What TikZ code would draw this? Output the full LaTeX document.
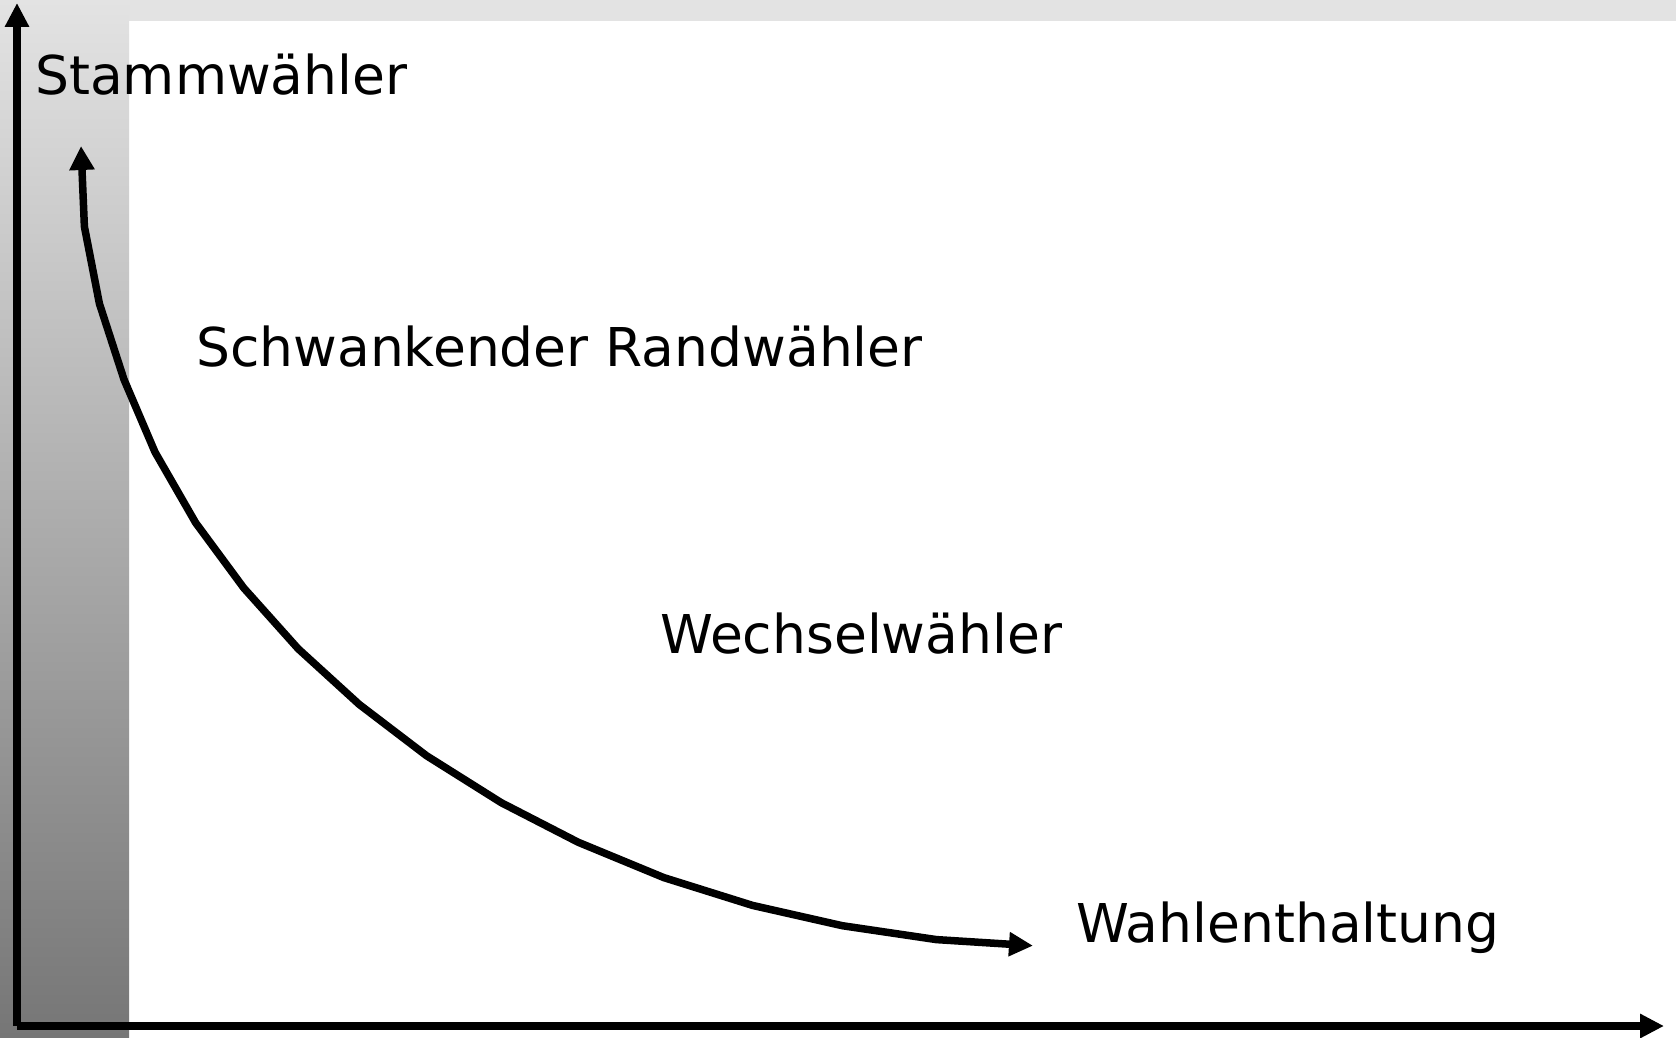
\documentclass[tikz,border=0pt]{standalone}
\usepackage{fontspec}
\setmainfont{DejaVu Sans}
\usetikzlibrary{arrows.meta}
\definecolor{BandGray}{RGB}{227,227,227}
\definecolor{BarDark}{RGB}{118,118,118}

\begin{document}
\begin{tikzpicture}[x=1bp,y=1bp,line join=miter]
  \path[use as bounding box] (0,0) rectangle (1676,1037);
  \fill[white] (0,0) rectangle (1676,1037);

  \tikzset{
    votertext/.style={anchor=base west,inner sep=0pt,text=black,
      font=\fontsize{53.5bp}{53.5bp}\selectfont},
    axisline/.style={line width=7.5bp,draw=black,
      -{Triangle[length=24bp,width=23bp]}},
    curveline/.style={line width=7.5bp,draw=black,
      {Triangle[length=24bp,width=24bp]}-{Triangle[length=24bp,width=23bp]}},
  }

  % Background band & gradient bar
  \fill[BandGray] (0,1016) rectangle (1676,1037);
  \shade[top color=BandGray,bottom color=BarDark] (0,0) rectangle (129,1037);

  % ==================== ACHSEN ====================
  \coordinate (origin) at (17,11);
  \coordinate (ytop) at (17,1034);
  \coordinate (xend) at (1664,11);
  \draw[axisline] (origin) -- (ytop);
  \draw[axisline] (origin) -- (xend);

  % ==================== KURVE ====================
  \draw[curveline] (81,891) -- (84.4,810.4) -- (99.4,733.4) -- (124,657.5)
    -- (155,584.9) -- (195.6,514.3) -- (243.7,449.1) -- (298.2,388.2)
    -- (359.2,332.6) -- (426.5,281.3) -- (501.3,234.3) -- (578.3,194.7)
    -- (663.8,159.4) -- (752.5,131.6) -- (842.3,111.3) -- (936.4,97.4)
    -- (1033,91.3);

  % ==================== BESCHRIFTUNG ====================
  \node[votertext] (stamm) at (35,942) {Stammwähler};
  \node[votertext] (rand) at (196,670) {Schwankender Randwähler};
  \node[votertext] (wechsel) at (660,383) {Wechselwähler};
  \node[votertext] (enthaltung) at (1076,95) {Wahlenthaltung};

\end{tikzpicture}
\end{document}
